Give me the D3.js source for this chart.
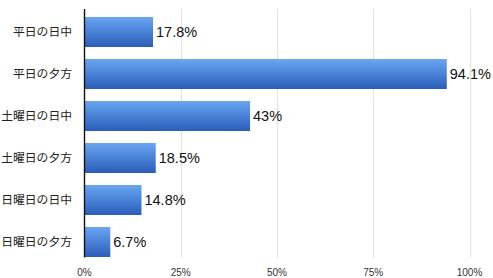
<!DOCTYPE html>
<html><head><meta charset="utf-8">
<script src="https://cdn.jsdelivr.net/npm/d3@7"></script>
<style>body{margin:0;background:#fff;}svg{display:block;}</style>
</head><body>
<svg id="c" width="493" height="278"></svg>
<script>
const categories = ["平日の日中","平日の夕方","土曜日の日中","土曜日の夕方","日曜日の日中","日曜日の夕方"];
const values = [17.8, 94.1, 43, 18.5, 14.8, 6.7];
const valueLabels = ["17.8%","94.1%","43%","18.5%","14.8%","6.7%"];
const ticks = [0, 25, 50, 75, 100];

const svg = d3.select("#c");
const x = d3.scaleLinear().domain([0,100]).range([84.5,469.5]);
const y = d3.scaleBand().domain(categories).range([11,263]).paddingInner(12/42).paddingOuter(6/42);

const defs = svg.append("defs");
const g = defs.append("linearGradient").attr("id","bg").attr("x1",0).attr("y1",0).attr("x2",0).attr("y2",1);
g.append("stop").attr("offset","0%").attr("stop-color","#69a6f2");
g.append("stop").attr("offset","100%").attr("stop-color","#2a5db9");

// gridlines
svg.append("g").selectAll("line").data(ticks.slice(1)).join("line")
  .attr("x1",d=>Math.round(x(d))+0.5).attr("x2",d=>Math.round(x(d))+0.5)
  .attr("y1",9).attr("y2",257.5).attr("stroke","#e2e2e2").attr("stroke-width",1);

// bars
svg.append("g").selectAll("rect").data(values).join("rect")
  .attr("x",x(0)).attr("y",(d,i)=>y(categories[i]))
  .attr("width",d=>x(d)-x(0)).attr("height",y.bandwidth())
  .attr("fill","url(#bg)");

// axis line
svg.append("line").attr("x1",84.5).attr("x2",84.5).attr("y1",9).attr("y2",257.5)
  .attr("stroke","#111").attr("stroke-width",1.4);

// value labels
svg.append("g").selectAll("text").data(values).join("text")
  .attr("x",d=>x(d)+3).attr("y",(d,i)=>y(categories[i])+y.bandwidth()/2)
  .attr("dy","0.36em").attr("font-family","'Liberation Sans', Arial, sans-serif")
  .attr("font-size",14.5).attr("fill","#111").text((d,i)=>valueLabels[i]);

// category labels
svg.append("g").selectAll("text").data(categories).join("text")
  .attr("x",72).attr("y",d=>y(d)+y.bandwidth()/2).attr("dy","0.36em")
  .attr("text-anchor","end").attr("font-family","'Noto Sans CJK JP', sans-serif")
  .attr("font-size",11.8).attr("fill","#222").text(d=>d);

// x tick labels
svg.append("g").selectAll("text").data(ticks).join("text")
  .attr("x",d=>x(d)).attr("y",272).attr("dy","0.36em").attr("text-anchor","middle")
  .attr("font-family","'Liberation Sans', Arial, sans-serif").attr("font-size",10)
  .attr("fill","#333").text(d=>d+"%");
</script>
</body></html>
